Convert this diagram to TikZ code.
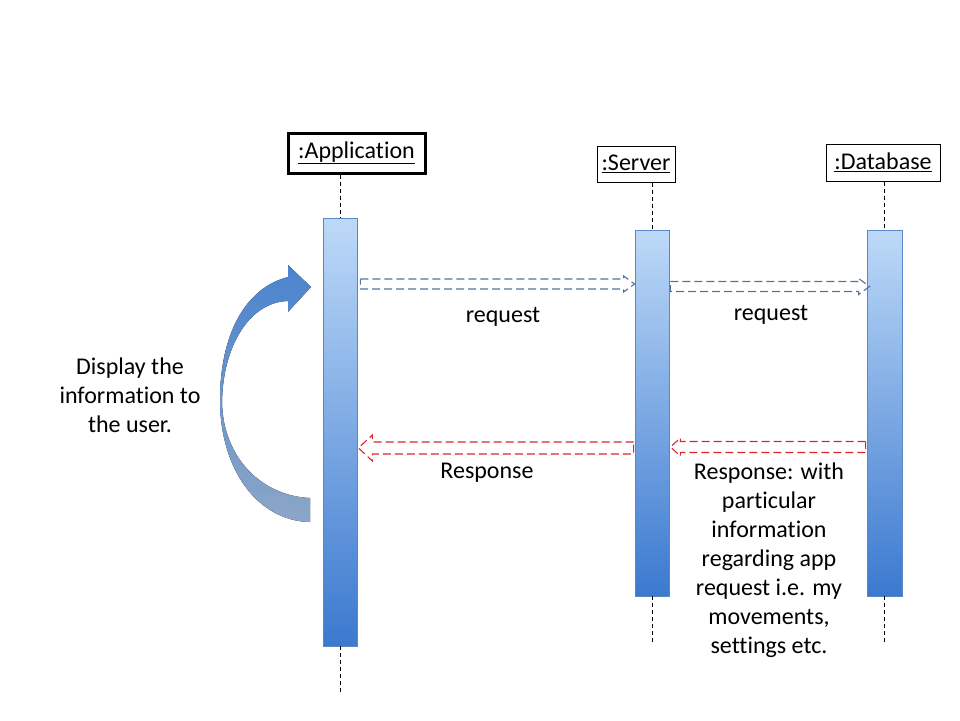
\documentclass[tikz,border=0pt]{standalone}
\usepackage{fontspec}
\setmainfont{Carlito}[Ligatures=NoCommon]
\usepackage{tikz}
\usetikzlibrary{calc}
\usetikzlibrary{positioning}
\definecolor{barlight}{HTML}{BDD9F8}
\definecolor{bardark}{HTML}{3B79CF}
\definecolor{baredge}{HTML}{5B88C4}
\definecolor{reqblue}{HTML}{4F74A0}
\definecolor{resred}{HTML}{D8262E}
\definecolor{curvetop}{HTML}{4A84CF}
\definecolor{curvebot}{HTML}{8CA6C7}
\tikzstyle{header} = [rectangle, draw=black, text centered, inner sep=0pt]
\tikzstyle{actbar} = [rectangle, draw=baredge, line width=0.8pt, top color=barlight,
bottom color=bardark, minimum width=34pt, inner sep=0pt]
\tikzstyle{lifeline} = [draw=black, line width=1pt, dash pattern=on 4pt off 3pt]
\tikzstyle{msgtext} = [text centered, align=center, inner sep=0pt]
\tikzset{hollow/.style n args={3}{to path={
  let \p1=(\tikztostart), \p2=(\tikztotarget),
      \p3=($(\tikztotarget)!#3!(\tikztostart)$) in
  (\x1,\y1+#1) -- (\x3,\y1+#1) -- (\x3,\y1+#2) -- (\x2,\y1)
  -- (\x3,\y1-#2) -- (\x3,\y1-#1) -- (\x1,\y1-#1) -- cycle}}}
\tikzstyle{reqarrow} = [draw=reqblue, line width=1.1pt, dash pattern=on 8pt off 4pt]
\tikzstyle{resarrow} = [draw=resred, line width=1.1pt, dash pattern=on 8pt off 4pt]

\begin{document}
\begin{tikzpicture}[x=1pt,y=-1pt,font=\fontsize{24}{29}\selectfont]
  \useasboundingbox (0,0) rectangle (960,720);
  % object heads
  \node (apphdr) [header, line width=3pt, minimum width=137pt, minimum height=40pt] at (356.5,153) {\underline{:Application}};
  \node (srvhdr) [header, line width=1pt, minimum width=78pt, minimum height=36pt] at (636,164) {\underline{:Server}};
  \node (dbhdr) [header, line width=1pt, minimum width=114pt, minimum height=37pt] at (883,162.5) {\underline{:Database}};
  % activation bars
  \node (appbar) [actbar, minimum height=428pt] at (340,432) {};
  \node (srvbar) [actbar, minimum height=366pt] at (652,413) {};
  \node (dbbar) [actbar, minimum height=366pt, minimum width=35pt] at (884.5,413) {};
  \coordinate (append) at (340,692);
  \coordinate (srvend) at (652,642);
  \coordinate (dbend) at (884.5,642);
  % lifelines
  \draw [lifeline] (apphdr.south -| appbar.north) -- (appbar.north);
  \draw [lifeline] (appbar.south) -- (append);
  \draw [lifeline] (srvhdr.south -| srvbar.north) -- (srvbar.north);
  \draw [lifeline] (srvbar.south) -- (srvend);
  \draw [lifeline] (dbhdr.south -| dbbar.north) -- (dbbar.north);
  \draw [lifeline] (dbbar.south) -- (dbend);
  % messages
  \draw [reqarrow, hollow={5pt}{8pt}{11pt}] ($(appbar.east |- 0,284)+(3,0)$) to (srvbar.west |- 0,284);
  \draw [reqarrow, hollow={5pt}{8pt}{11pt}] ($(srvbar.east |- 0,286.5)+(1,0)$) to ($(dbbar.west |- 0,286.5)+(3,0)$);
  \draw [resarrow, hollow={6pt}{13pt}{14pt}] ($(srvbar.west |- 0,448)+(-1,0)$) to ($(appbar.east |- 0,448)+(1,0)$);
  \draw [resarrow, hollow={5.5pt}{9pt}{10pt}] ($(dbbar.west |- 0,447)+(-1,0)$) to ($(srvbar.east |- 0,447)+(1,0)$);
  \node (req1) [msgtext] at (503,317) {request};
  \node (req2) [msgtext] at (771,315) {request};
  \node (res1) [msgtext] at (487,473) {Response};
  \node (res2) [msgtext] at (769,560) {Response: with\\particular\\information\\regarding app\\request i.e. my\\movements,\\settings etc.};
  % self call
  \fill [top color=curvetop, bottom color=curvebot] (288,277) .. controls (245,288) and (220,335) .. (220,400)
    .. controls (220,470) and (258,521) .. (310,522) -- (310,498)
    .. controls (262,496) and (223,458) .. (222,402) .. controls (223,345) and (250,302) .. (288,301)
    -- (288,312) -- (311,287) -- (288,265) -- cycle;
  \node (disp) [msgtext] at (130,395) {Display the\\information to\\the user.};
\end{tikzpicture}
\end{document}
